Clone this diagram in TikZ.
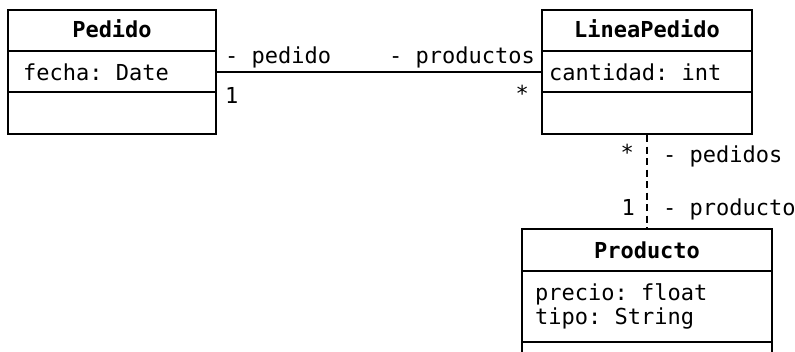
\documentclass[tikz,border=0pt]{standalone}
\usepackage{fontspec}
\setmonofont{DejaVu Sans Mono}
\begin{document}
\begin{tikzpicture}[x=1pt,y=-1pt,
  every node/.style={font=\ttfamily\fontsize{22}{26}\selectfont, inner sep=0pt},
  classbox/.style={draw, line width=2pt, rectangle, inner sep=0pt},
  divider/.style={line width=2pt},
  assoc/.style={line width=2pt},
  depend/.style={line width=2pt, dash pattern=on 7pt off 4.5pt},
  title/.style={font=\ttfamily\bfseries\fontsize{22}{26}\selectfont, anchor=base},
  attr/.style={anchor=base west},
  rolel/.style={anchor=base west},
  roler/.style={anchor=base east}]
\useasboundingbox (0,0) rectangle (795,351);

% Pedido
\node[classbox, minimum width=208pt, minimum height=124pt] (ped) at (112,72) {};
\draw[divider] (ped.west |- 0,51) -- (ped.east |- 0,51);
\draw[divider] (ped.west |- 0,92) -- (ped.east |- 0,92);
\node[title] (pedT) at (112,37) {Pedido};
\node[attr] (pedA) at (23,80) {fecha: Date};

% LineaPedido
\node[classbox, minimum width=210pt, minimum height=124pt] (lin) at (647,72) {};
\draw[divider] (lin.west |- 0,51) -- (lin.east |- 0,51);
\draw[divider] (lin.west |- 0,92) -- (lin.east |- 0,92);
\node[title] (linT) at (647,37) {LineaPedido};
\node[attr] (linA) at (549,80) {cantidad: int};

% Producto
\node[classbox, minimum width=250pt, minimum height=140pt] (prod) at (647,299) {};
\draw[divider] (prod.west |- 0,271) -- (prod.east |- 0,271);
\draw[divider] (prod.west |- 0,342) -- (prod.east |- 0,342);
\node[title] (prodT) at (647,258) {Producto};
\node[attr] (prodA) at (535,300) {precio: float};
\node[attr] (prodB) at (535,324) {tipo: String};

% Pedido -- LineaPedido
\draw[assoc] (ped.east) -- (lin.west);
\node[rolel] (r1) at (225,63) {- pedido};
\node[rolel] (m1) at (225,103) {1};
\node[roler] (r2) at (535,63) {- productos};
\node[roler] (m2) at (529,101) {*};

% LineaPedido -- Producto
\draw[depend] (lin.south) -- (prod.north);
\node[roler] (m3) at (634,160) {*};
\node[rolel] (r3) at (663,162) {- pedidos};
\node[roler] (m4) at (635,215) {1};
\node[rolel] (r4) at (663,215) {- producto};
\end{tikzpicture}
\end{document}
